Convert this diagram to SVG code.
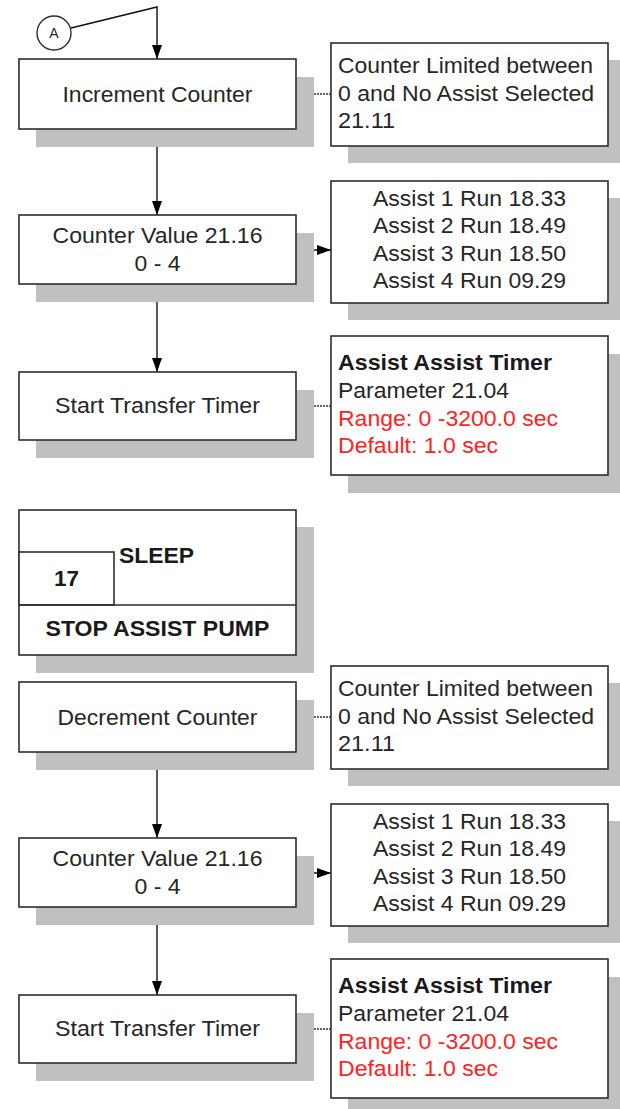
<svg xmlns="http://www.w3.org/2000/svg" width="620" height="1109" viewBox="0 0 620 1109">
<style>
.bg{fill:#ffffff}
.sh{fill:#c0c0c0}
.bx{fill:#ffffff;stroke:#2e2e2e;stroke-width:1.6}
.t{font-family:"Liberation Sans",Arial,sans-serif;font-size:22px;fill:#262626}
.c{text-anchor:middle}
.b{font-weight:bold;fill:#1a1a1a}
.r{fill:#ff2222}
.ln{fill:none;stroke:#111;stroke-width:1.4}
.dt{fill:none;stroke:#333;stroke-width:1.3;stroke-dasharray:2 1}
</style>
<defs>
<marker id="ah" viewBox="0 0 14 10" refX="14" refY="5" markerWidth="14" markerHeight="10" markerUnits="userSpaceOnUse" orient="auto">
<path d="M0,0 L14,5 L0,10 Z" fill="#000"/>
</marker>
</defs>
<rect class="bg" x="0" y="0" width="620" height="1109"/>

<g id="connectors">
<polyline class="ln" points="71,28 157,7 157,59" marker-end="url(#ah)"/>
<line class="ln" x1="157" y1="129" x2="157" y2="215" marker-end="url(#ah)"/>
<line class="dt" x1="296" y1="94" x2="331" y2="94"/>
<line class="ln" x1="296" y1="250" x2="331" y2="250" marker-end="url(#ah)"/>
<line class="ln" x1="157" y1="284" x2="157" y2="372" marker-end="url(#ah)"/>
<line class="dt" x1="296" y1="406" x2="331" y2="406"/>
<line class="dt" x1="296" y1="717" x2="331" y2="717"/>
<line class="ln" x1="157" y1="752" x2="157" y2="838" marker-end="url(#ah)"/>
<line class="ln" x1="296" y1="873" x2="331" y2="873" marker-end="url(#ah)"/>
<line class="ln" x1="157" y1="907" x2="157" y2="995" marker-end="url(#ah)"/>
<line class="dt" x1="296" y1="1029" x2="331" y2="1029"/>
</g>

<g id="connectorA">
<circle cx="54" cy="33" r="17" fill="#fff" stroke="#2e2e2e" stroke-width="1.4"/>
<text class="t c" x="54" y="38" style="font-size:14px">A</text>
</g>

<g id="incrementCounter">
<rect class="sh" x="36" y="77" width="278" height="70"/>
<rect class="bx" x="19" y="59" width="277" height="70"/>
<text class="t c" x="157.5" y="101.5" textLength="190" lengthAdjust="spacingAndGlyphs">Increment Counter</text>
</g>

<g id="counterLimit1">
<rect class="sh" x="348" y="60" width="277" height="103"/>
<rect class="bx" x="331" y="43" width="277" height="103"/>
<text class="t" x="338" y="73" textLength="255" lengthAdjust="spacingAndGlyphs">Counter Limited between</text>
<text class="t" x="338" y="101" textLength="256" lengthAdjust="spacingAndGlyphs">0 and No Assist Selected</text>
<text class="t" x="338" y="128" textLength="57" lengthAdjust="spacingAndGlyphs">21.11</text>
</g>

<g id="counterValue1">
<rect class="sh" x="36" y="233" width="278" height="69"/>
<rect class="bx" x="19" y="215" width="277" height="69"/>
<text class="t c" x="157.5" y="243" textLength="210" lengthAdjust="spacingAndGlyphs">Counter Value 21.16</text>
<text class="t c" x="157.5" y="271" textLength="46" lengthAdjust="spacingAndGlyphs">0 - 4</text>
</g>

<g id="assistRuns1">
<rect class="sh" x="348" y="198" width="277" height="122"/>
<rect class="bx" x="331" y="181" width="277" height="122"/>
<text class="t c" x="469.5" y="206" textLength="193" lengthAdjust="spacingAndGlyphs">Assist 1 Run 18.33</text>
<text class="t c" x="469.5" y="233" textLength="193" lengthAdjust="spacingAndGlyphs">Assist 2 Run 18.49</text>
<text class="t c" x="469.5" y="261" textLength="193" lengthAdjust="spacingAndGlyphs">Assist 3 Run 18.50</text>
<text class="t c" x="469.5" y="288" textLength="193" lengthAdjust="spacingAndGlyphs">Assist 4 Run 09.29</text>
</g>

<g id="startTimer1">
<rect class="sh" x="36" y="390" width="278" height="68"/>
<rect class="bx" x="19" y="372" width="277" height="68"/>
<text class="t c" x="157.5" y="413" textLength="205" lengthAdjust="spacingAndGlyphs">Start Transfer Timer</text>
</g>

<g id="timerInfo1">
<rect class="sh" x="348" y="354" width="277" height="139"/>
<rect class="bx" x="331" y="336" width="277" height="139"/>
<text class="t b" x="338" y="370" textLength="214" lengthAdjust="spacingAndGlyphs">Assist Assist Timer</text>
<text class="t" x="338" y="398" textLength="171" lengthAdjust="spacingAndGlyphs">Parameter 21.04</text>
<text class="t r" x="338" y="426" textLength="220" lengthAdjust="spacingAndGlyphs">Range: 0 -3200.0 sec</text>
<text class="t r" x="338" y="453" textLength="160" lengthAdjust="spacingAndGlyphs">Default: 1.0 sec</text>
</g>

<g id="sleepState">
<rect class="sh" x="36" y="527" width="278" height="146"/>
<rect class="bx" x="19" y="510" width="277" height="145"/>
<rect class="bx" x="19" y="552" width="95" height="53"/>
<line x1="19" y1="605" x2="296" y2="605" stroke="#2e2e2e" stroke-width="1.6"/>
<text class="t b" x="119" y="563" textLength="75" lengthAdjust="spacingAndGlyphs">SLEEP</text>
<text class="t b c" x="66.5" y="586" textLength="25" lengthAdjust="spacingAndGlyphs">17</text>
<text class="t b c" x="157.5" y="636" textLength="224" lengthAdjust="spacingAndGlyphs">STOP ASSIST PUMP</text>
</g>

<g id="decrementCounter">
<rect class="sh" x="36" y="700" width="278" height="70"/>
<rect class="bx" x="19" y="682" width="277" height="70"/>
<text class="t c" x="157.5" y="724.5" textLength="200" lengthAdjust="spacingAndGlyphs">Decrement Counter</text>
</g>

<g id="counterLimit2">
<rect class="sh" x="348" y="683" width="277" height="103"/>
<rect class="bx" x="331" y="666" width="277" height="103"/>
<text class="t" x="338" y="696" textLength="255" lengthAdjust="spacingAndGlyphs">Counter Limited between</text>
<text class="t" x="338" y="724" textLength="256" lengthAdjust="spacingAndGlyphs">0 and No Assist Selected</text>
<text class="t" x="338" y="751" textLength="57" lengthAdjust="spacingAndGlyphs">21.11</text>
</g>

<g id="counterValue2">
<rect class="sh" x="36" y="856" width="278" height="69"/>
<rect class="bx" x="19" y="838" width="277" height="69"/>
<text class="t c" x="157.5" y="866" textLength="210" lengthAdjust="spacingAndGlyphs">Counter Value 21.16</text>
<text class="t c" x="157.5" y="894" textLength="46" lengthAdjust="spacingAndGlyphs">0 - 4</text>
</g>

<g id="assistRuns2">
<rect class="sh" x="348" y="821" width="277" height="122"/>
<rect class="bx" x="331" y="804" width="277" height="122"/>
<text class="t c" x="469.5" y="829" textLength="193" lengthAdjust="spacingAndGlyphs">Assist 1 Run 18.33</text>
<text class="t c" x="469.5" y="856" textLength="193" lengthAdjust="spacingAndGlyphs">Assist 2 Run 18.49</text>
<text class="t c" x="469.5" y="884" textLength="193" lengthAdjust="spacingAndGlyphs">Assist 3 Run 18.50</text>
<text class="t c" x="469.5" y="911" textLength="193" lengthAdjust="spacingAndGlyphs">Assist 4 Run 09.29</text>
</g>

<g id="startTimer2">
<rect class="sh" x="36" y="1013" width="278" height="68"/>
<rect class="bx" x="19" y="995" width="277" height="68"/>
<text class="t c" x="157.5" y="1036" textLength="205" lengthAdjust="spacingAndGlyphs">Start Transfer Timer</text>
</g>

<g id="timerInfo2">
<rect class="sh" x="348" y="977" width="277" height="139"/>
<rect class="bx" x="331" y="959" width="277" height="139"/>
<text class="t b" x="338" y="993" textLength="214" lengthAdjust="spacingAndGlyphs">Assist Assist Timer</text>
<text class="t" x="338" y="1021" textLength="171" lengthAdjust="spacingAndGlyphs">Parameter 21.04</text>
<text class="t r" x="338" y="1049" textLength="220" lengthAdjust="spacingAndGlyphs">Range: 0 -3200.0 sec</text>
<text class="t r" x="338" y="1076" textLength="160" lengthAdjust="spacingAndGlyphs">Default: 1.0 sec</text>
</g>
</svg>
